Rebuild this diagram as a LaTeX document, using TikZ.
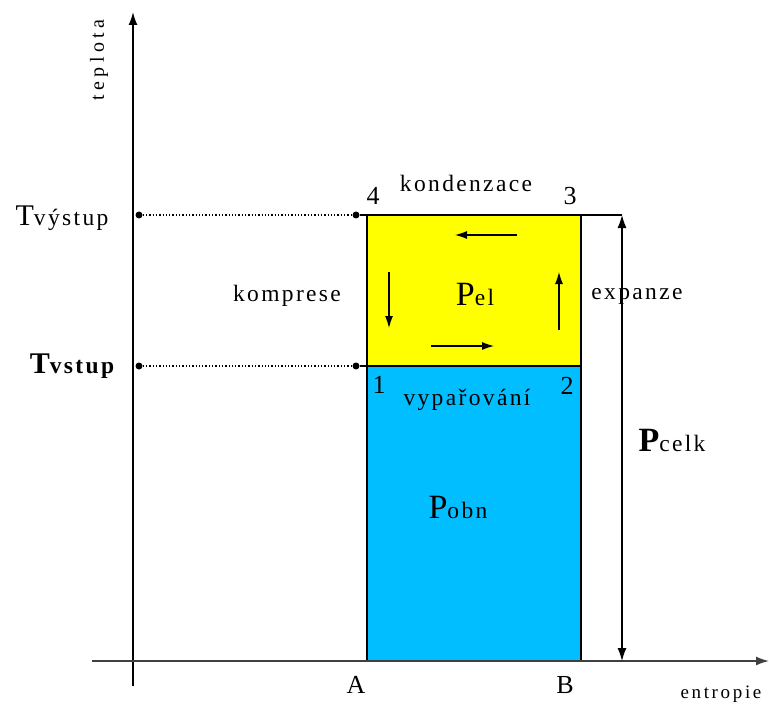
\documentclass[tikz,border=0pt]{standalone}
\usepackage{fontspec}
\setmainfont{Liberation Serif}
\newfontfamily\spaced[LetterSpace=10]{Liberation Serif}
\newfontfamily\wider[LetterSpace=14]{Liberation Serif}
\newfontfamily\widest[LetterSpace=22]{Liberation Serif}
\usetikzlibrary{arrows.meta}
\definecolor{cyel}{RGB}{255,255,0}
\definecolor{cblue}{RGB}{0,190,255}
\begin{document}
\begin{tikzpicture}[x=1pt,y=-1pt,
  lbl/.style={inner sep=0pt,font=\spaced\fontsize{23.5}{25}\selectfont},
  small/.style={inner sep=0pt,font=\wider\fontsize{19}{21}\selectfont},
  axis/.style={line width=1.6pt,-{Latex[length=13pt,width=9pt]}},
  flow/.style={line width=1.1pt,-{Latex[length=12pt,width=8pt]}},
  guide/.style={line width=1.3pt,dotted},
  enddot/.style={circle,fill=black,inner sep=0pt,minimum size=7pt}]
\useasboundingbox (0,0) rectangle (769,706);
\fill[white] (0,0) rectangle (769,706);
% corners
\coordinate (A) at (367,661);
\coordinate (B) at (581,661);
\coordinate (p1) at (367,366);
\coordinate (p2) at (581,366);
\coordinate (p3) at (581,215);
\coordinate (p4) at (367,215);
\coordinate (ce) at (622,215);
\coordinate (cb) at (622,661);
% areas
\fill[cblue] (p1) rectangle (B);
\fill[cyel] (p4) rectangle (p2);
\draw[line width=1.3pt] (p4) rectangle (p2);
\draw[line width=1.3pt] (p1) rectangle (B);
\draw[line width=1.3pt] (p3) -- (ce);
% axes
\coordinate (yb) at (133,686);
\coordinate (yt) at (133,12);
\coordinate (xl) at (92,661);
\coordinate (xr) at (769,661);
\draw[axis] (yb) -- (yt);
\draw[axis,black!75] (xl) -- (xr);
% total arrow
\draw[line width=1.3pt,{Latex[length=13pt,width=9pt]}-{Latex[length=13pt,width=9pt]}] (cb) -- (ce);
% dotted guides
\node[enddot] (g1a) at (139,215) {};
\node[enddot] (g1b) at (356,215) {};
\node[enddot] (g2a) at (139,366) {};
\node[enddot] (g2b) at (356,366) {};
\draw[guide] (g1a) -- (g1b);
\draw[guide] (g2a) -- (g2b);
\draw[line width=1.2pt] (g1b) -- (p4);
\draw[line width=1.2pt] (g2b) -- (p1);
% cycle arrows
\coordinate (t1) at (517,235); \coordinate (t2) at (455,235);
\coordinate (l1) at (389,272); \coordinate (l2) at (389,328);
\coordinate (b1) at (431,346); \coordinate (b2) at (494,346);
\coordinate (r1) at (559,330); \coordinate (r2) at (559,272);
\draw[flow] (t1) -- (t2);
\draw[flow] (l1) -- (l2);
\draw[flow] (b1) -- (b2);
\draw[flow] (r1) -- (r2);
% labels
\node[inner sep=0pt,font=\widest\fontsize{20}{22}\selectfont,rotate=90] (teplota) at (99,60) {teplota};
\node[small] (entropie) at (721,694) {entropie};
\node[lbl] (tvy) at (62,218) {{\fontsize{30}{32}\selectfont T}výstup};
\node[lbl,font=\spaced\bfseries\fontsize{23.5}{25}\selectfont] (tvs) at (72,366) {{\fontsize{30}{32}\selectfont T}vstup};
\node[lbl,font=\fontsize{26}{28}\selectfont] (n4) at (373,196) {4};
\node[lbl] (kond) at (466,183) {kondenzace};
\node[lbl,font=\fontsize{26}{28}\selectfont] (n3) at (570,196) {3};
\node[lbl] (komp) at (287,296) {komprese};
\node[lbl] (pel) at (475,294) {{\fontsize{34}{36}\selectfont P}el};
\node[lbl] (exp) at (637,296) {expanze};
\node[lbl,font=\fontsize{26}{28}\selectfont] (n1) at (379,385) {1};
\node[lbl] (vyp) at (467,400) {vypařování};
\node[lbl,font=\fontsize{26}{28}\selectfont] (n2) at (567,386) {2};
\node[lbl] (pcelk) at (672,440) {{\bfseries\fontsize{34}{36}\selectfont P}celk};
\node[lbl] (pobn) at (458,507) {{\fontsize{34}{36}\selectfont P}obn};
\node[lbl,font=\fontsize{26}{28}\selectfont] (la) at (356,685) {A};
\node[lbl,font=\fontsize{26}{28}\selectfont] (lb) at (565,685) {B};
\end{tikzpicture}
\end{document}
